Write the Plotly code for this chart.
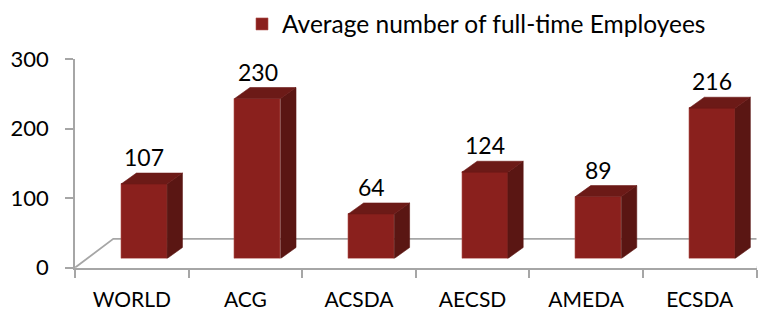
import plotly.graph_objects as go

categories = ["WORLD", "ACG", "ACSDA", "AECSD", "AMEDA", "ECSDA"]
values = [107, 230, 64, 124, 89, 216]
series_name = "Average number of full-time Employees"
y_ticks = [0, 100, 200, 300]

W, H = 784, 311
FONT = "Lato, 'Open Sans', sans-serif"
FRONT = "#8A201D"
SIDE = "#5A1613"
TOP = "#6C1A17"
GRID = "#A6A6A6"

def px_x(p):
    return p / W

def px_y(p):
    return 1 - p / H

# bar geometry in data units of the bar axes
bw = 0.405       # bar width (category units)
ddx = 0.135      # depth offset x
ddy = 15.8       # depth offset y (value units)

xs = list(range(len(categories)))
fig = go.Figure()

# invisible helper trace to establish front category axis
fig.add_trace(go.Scatter(x=categories, y=[None] * len(categories), xaxis="x", yaxis="y",
                         mode="markers", showlegend=False, hoverinfo="skip"))

# side & top faces
for x, v in zip(xs, values):
    r = x + bw / 2
    l = x - bw / 2
    fig.add_trace(go.Scatter(
        x=[r, r, r + ddx, r + ddx, r], y=[0, v, v + ddy, ddy, 0],
        xaxis="x2", yaxis="y2", mode="lines", fill="toself", fillcolor=SIDE,
        line=dict(width=0.6, color=SIDE), showlegend=False, hoverinfo="skip"))
    fig.add_trace(go.Scatter(
        x=[l, r, r + ddx, l + ddx, l], y=[v, v, v + ddy, v + ddy, v],
        xaxis="x2", yaxis="y2", mode="lines", fill="toself", fillcolor=TOP,
        line=dict(width=0.6, color=TOP), showlegend=False, hoverinfo="skip"))

# front faces
fig.add_trace(go.Bar(
    x=xs, y=values, width=bw, name=series_name, xaxis="x2", yaxis="y2",
    marker=dict(color=FRONT, line=dict(color="#B0504C", width=0.6)),
    showlegend=True))

annotations = []
for x, v in zip(xs, values):
    annotations.append(dict(x=x, y=v, xref="x2", yref="y2", text=str(v), showarrow=False,
                            yshift=27, font=dict(family=FONT, size=23, color="#000")))

# floor outline (left, back, right edges) in front-axis coordinates
fdx = 0.337   # floor depth in category units
fdy = 41.5    # floor depth in value units
n = len(categories)
shapes = [dict(type="path", xref="x", yref="y",
               path=f"M -0.5,0 L {-0.5 + fdx},{fdy} L {n - 0.5 + fdx},{fdy} L {n - 0.5},0",
               line=dict(color=GRID, width=1.8), layer="below")]

fig.update_layout(
    width=W, height=H, autosize=False,
    margin=dict(l=0, r=0, t=0, b=0, pad=0),
    paper_bgcolor="white", plot_bgcolor="rgba(0,0,0,0)",
    font=dict(family=FONT, size=21, color="#000"),
    xaxis=dict(domain=[px_x(75), px_x(756.5)], type="category", range=[-0.5, n - 0.5],
               categoryorder="array", categoryarray=categories, automargin=False,
               showline=True, linecolor=GRID, linewidth=1.8, ticks="outside", ticklen=8,
               tickcolor=GRID, tickwidth=1.8, tickson="boundaries", showgrid=False,
               zeroline=False, anchor="y", ticklabelstandoff=12,
               tickfont=dict(family=FONT, size=21, color="#000"), fixedrange=True),
    yaxis=dict(domain=[px_y(267.7), px_y(59)], range=[0, 300], tickvals=y_ticks,
               automargin=False,
               showline=True, linecolor=GRID, linewidth=1.8, ticks="outside", ticklen=8,
               tickcolor=GRID, tickwidth=1.8, showgrid=False, zeroline=False, anchor="x",
               ticklabelstandoff=12,
               tickfont=dict(family=FONT, size=22, color="#000"), fixedrange=True),
    xaxis2=dict(domain=[px_x(87.3), px_x(768.8)], range=[-0.5, n - 0.5], visible=False,
                anchor="y2", fixedrange=True, automargin=False),
    yaxis2=dict(domain=[px_y(258.5), px_y(49.8)], range=[0, 300], visible=False,
                anchor="x2", fixedrange=True, automargin=False),
    bargap=0,
    showlegend=True,
    legend=dict(x=px_x(242), y=px_y(24), xanchor="left", yanchor="middle",
                orientation="h", bgcolor="rgba(0,0,0,0)",
                font=dict(family=FONT, size=24.5, color="#000")),
    shapes=shapes,
    annotations=annotations,
)

fig.write_html("out.html", config={"displayModeBar": False},
               post_script="document.body.style.margin='0';document.body.style.overflow='hidden';")
